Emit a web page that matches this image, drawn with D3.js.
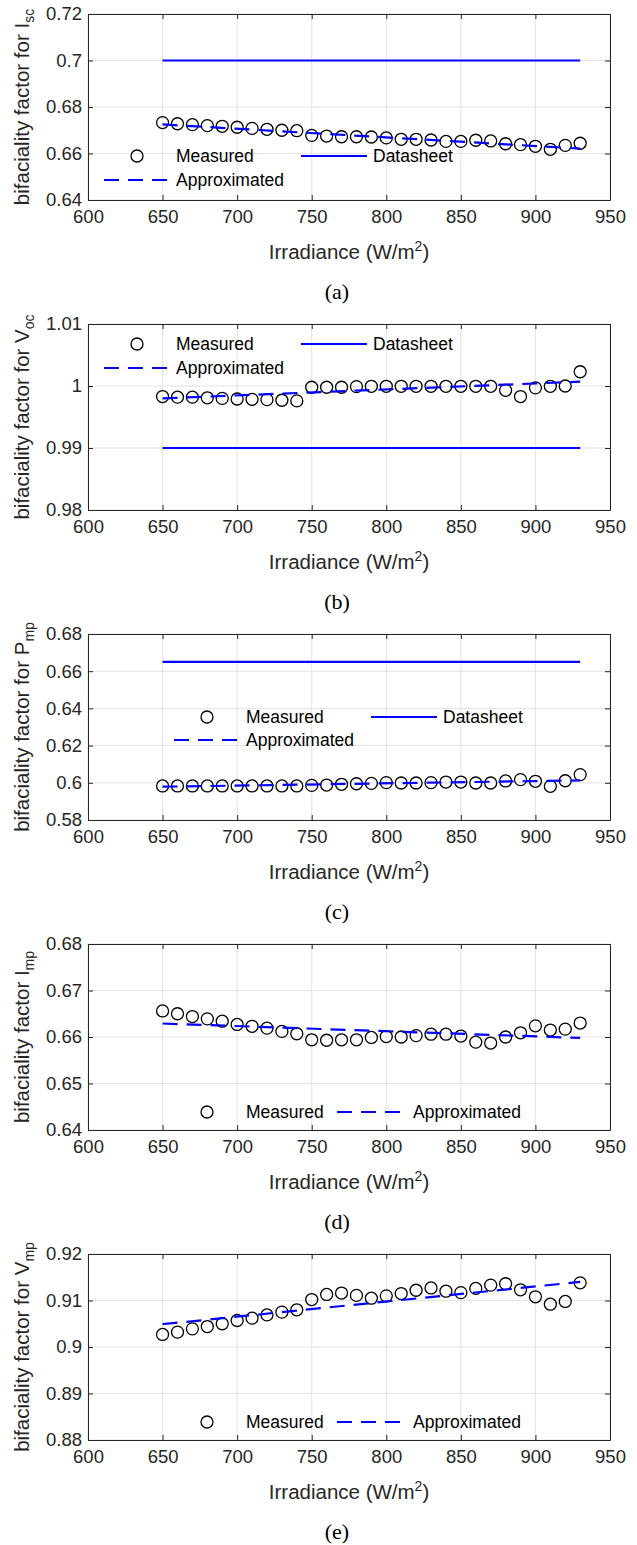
<!DOCTYPE html>
<html>
<head>
<meta charset="utf-8">
<script src="https://cdn.jsdelivr.net/npm/d3@7"></script>
<style>
  body { margin: 0; background: #fff; }
  svg { display: block; }
</style>
</head>
<body>
<div id="chart"></div>
<script>
// irradiance steps (W/m2)
var irradiance = [650, 660, 670, 680, 690, 700, 710, 720, 730, 740, 750, 760, 770, 780, 790,
                  800, 810, 820, 830, 840, 850, 860, 870, 880, 890, 900, 910, 920, 930];

var iscMeasured = [0.6733, 0.6728, 0.6724, 0.6720, 0.6717, 0.6713, 0.6708, 0.6704, 0.6700, 0.6698,
                   0.6678, 0.6675, 0.6672, 0.6672, 0.6671, 0.6667, 0.6661, 0.6661, 0.6658, 0.6652,
                   0.6652, 0.6657, 0.6654, 0.6642, 0.6638, 0.6631, 0.6618, 0.6635, 0.6644];
var vocMeasured = [0.9983, 0.9982, 0.9982, 0.9981, 0.9980, 0.9979, 0.99785, 0.9978, 0.9977, 0.9976,
                   0.9998, 0.9998, 0.9998, 0.9999, 0.99995, 0.99995, 0.99995, 0.99995, 0.99995, 0.99995,
                   0.99995, 0.99995, 0.99995, 0.9993, 0.9983, 0.9997, 0.99995, 1.0000, 1.0023];
var pmpMeasured = [0.5983, 0.5983, 0.5983, 0.5983, 0.5983, 0.5983, 0.5983, 0.5983, 0.5983, 0.5983,
                   0.5986, 0.5988, 0.5992, 0.5995, 0.5997, 0.6001, 0.5999, 0.5999, 0.6001, 0.6004,
                   0.6004, 0.5999, 0.5999, 0.6010, 0.6017, 0.6008, 0.5981, 0.6011, 0.6044];
var impMeasured = [0.6656, 0.6650, 0.6644, 0.6639, 0.6634, 0.6627, 0.6623, 0.6619, 0.6612, 0.6607,
                   0.6594, 0.6593, 0.6594, 0.6594, 0.6599, 0.6601, 0.6600, 0.6603, 0.6606, 0.6606,
                   0.6602, 0.6589, 0.6587, 0.6600, 0.6609, 0.6624, 0.6615, 0.6617, 0.6630];
var vmpMeasured = [0.9027, 0.9032, 0.9039, 0.9044, 0.9050, 0.9057, 0.9062, 0.9069, 0.9075, 0.9080,
                   0.9102, 0.9113, 0.9116, 0.9111, 0.9105, 0.9110, 0.9115, 0.9122, 0.9127, 0.9120,
                   0.9117, 0.9126, 0.9133, 0.9136, 0.9123, 0.9108, 0.9092, 0.9098, 0.9138];

// fitted lines (end points) and datasheet values
var approxX = [650, 930];
var iscApprox = [0.6725, 0.6621];
var vocApprox = [0.9980, 1.0007];
var pmpApprox = [0.5979, 0.6013];
var impApprox = [0.6629, 0.6598];
var vmpApprox = [0.9049, 0.9140];

var datasheetX = [650, 930];
var iscDatasheet = [0.70, 0.70];
var vocDatasheet = [0.99, 0.99];
var pmpDatasheet = [0.665, 0.665];

var xTicks = [600, 650, 700, 750, 800, 850, 900, 950];
var iscTicks = [0.64, 0.66, 0.68, 0.70, 0.72];
var vocTicks = [0.98, 0.99, 1.00, 1.01];
var pmpTicks = [0.58, 0.60, 0.62, 0.64, 0.66, 0.68];
var impTicks = [0.64, 0.65, 0.66, 0.67, 0.68];
var vmpTicks = [0.88, 0.89, 0.90, 0.91, 0.92];

var labelMain = ['bifaciality factor for I', 'bifaciality factor for V', 'bifaciality factor for P',
                 'bifaciality factor I', 'bifaciality factor for V'];
var labelSub = ['sc', 'oc', 'mp', 'mp', 'mp'];
var captions = ['(a)', '(b)', '(c)', '(d)', '(e)'];

var W = 637, H = 1545;
var left = 88, right = 610, plotH = 186, step = 310, top0 = 14;
var blue = '#0000ff', ink = '#262626';
var sans = '"Liberation Sans", Arial, Helvetica, sans-serif';

var svg = d3.select('#chart').append('svg')
            .attr('width', W)
            .attr('height', H);

svg.append('rect')
   .attr('width', W)
   .attr('height', H)
   .attr('fill', '#fff');

var x = d3.scaleLinear().domain([600, 950]).range([left, right]);

function drawPanel(i, measured, ticks, approx, datasheet, legend){
  var top = top0 + i * step;
  var y = d3.scaleLinear()
            .domain([ticks[0], ticks[ticks.length - 1]])
            .range([top + plotH, top]);
  var g = svg.append('g');

  // grid
  g.selectAll('.gx').data(xTicks).enter().append('line')
    .attr('x1', function(d){ return x(d); })
    .attr('x2', function(d){ return x(d); })
    .attr('y1', top).attr('y2', top + plotH)
    .attr('stroke', '#e3e3e3').attr('stroke-width', 1);
  g.selectAll('.gy').data(ticks).enter().append('line')
    .attr('x1', left).attr('x2', right)
    .attr('y1', function(d){ return y(d); })
    .attr('y2', function(d){ return y(d); })
    .attr('stroke', '#e3e3e3').attr('stroke-width', 1);

  // axes (matlab style box, ticks pointing in)
  var fmt = function(d){ return String(+d.toFixed(2)); };
  g.append('g').attr('transform', 'translate(0,' + (top + plotH) + ')')
    .call(d3.axisBottom(x).tickValues(xTicks).tickSizeInner(-5).tickSizeOuter(0).tickPadding(10));
  g.append('g').attr('transform', 'translate(0,' + top + ')')
    .call(d3.axisTop(x).tickValues(xTicks).tickSizeInner(-5).tickSizeOuter(0).tickFormat(''));
  g.append('g').attr('transform', 'translate(' + left + ',0)')
    .call(d3.axisLeft(y).tickValues(ticks).tickFormat(fmt).tickSizeInner(-5).tickSizeOuter(0).tickPadding(6));
  g.append('g').attr('transform', 'translate(' + right + ',0)')
    .call(d3.axisRight(y).tickValues(ticks).tickSizeInner(-5).tickSizeOuter(0).tickFormat(''));
  g.selectAll('.domain').attr('stroke', ink);
  g.selectAll('.tick line').attr('stroke', ink);
  g.selectAll('.tick text')
    .attr('fill', ink)
    .style('font-family', sans)
    .style('font-size', '18.5px');

  // measured
  g.selectAll('.m').data(measured).enter().append('circle')
    .attr('cx', function(d, k){ return x(irradiance[k]); })
    .attr('cy', function(d){ return y(d); })
    .attr('r', 6)
    .attr('fill', 'none')
    .attr('stroke', '#000')
    .attr('stroke-width', 1.3);

  var line = d3.line()
               .x(function(d, k){ return x(approxX[k]); })
               .y(function(d){ return y(d); });
  g.append('path')
    .datum(approx)
    .attr('d', line)
    .attr('fill', 'none')
    .attr('stroke', blue)
    .attr('stroke-width', 2.2)
    .attr('stroke-dasharray', '15,9');

  if(datasheet){
    var dsLine = d3.line()
                   .x(function(d, k){ return x(datasheetX[k]); })
                   .y(function(d){ return y(d); });
    g.append('path')
      .datum(datasheet)
      .attr('d', dsLine)
      .attr('fill', 'none')
      .attr('stroke', blue)
      .attr('stroke-width', 2.2);
  }

  // legend
  var lg = g.append('g').attr('transform', 'translate(' + legend.dx + ',' + top + ')');
  lg.append('circle')
    .attr('cx', 137).attr('cy', legend.r1)
    .attr('r', 6).attr('fill', 'none')
    .attr('stroke', '#000').attr('stroke-width', 1.3);
  lg.append('text')
    .attr('x', 176).attr('y', legend.r1).attr('dy', '0.35em')
    .text('Measured');
  if(datasheet){
    lg.append('line')
      .attr('x1', 301).attr('x2', 367)
      .attr('y1', legend.r1).attr('y2', legend.r1)
      .attr('stroke', blue).attr('stroke-width', 2.2);
    lg.append('text')
      .attr('x', 373).attr('y', legend.r1).attr('dy', '0.35em')
      .text('Datasheet');
    lg.append('line')
      .attr('x1', 104).attr('x2', 167)
      .attr('y1', legend.r2).attr('y2', legend.r2)
      .attr('stroke', blue).attr('stroke-width', 2.2)
      .attr('stroke-dasharray', '15,9');
    lg.append('text')
      .attr('x', 176).attr('y', legend.r2).attr('dy', '0.35em')
      .text('Approximated');
  } else {
    lg.append('line')
      .attr('x1', 267).attr('x2', 334)
      .attr('y1', legend.r1).attr('y2', legend.r1)
      .attr('stroke', blue).attr('stroke-width', 2.2)
      .attr('stroke-dasharray', '15,9');
    lg.append('text')
      .attr('x', 343).attr('y', legend.r1).attr('dy', '0.35em')
      .text('Approximated');
  }
  lg.selectAll('text')
    .attr('fill', '#000')
    .style('font-family', sans)
    .style('font-size', '17.5px');

  // axis labels
  var xl = g.append('text')
            .attr('x', (left + right) / 2)
            .attr('y', top + plotH + 59)
            .attr('text-anchor', 'middle')
            .attr('fill', ink)
            .style('font-family', sans)
            .style('font-size', '20.5px');
  xl.append('tspan').text('Irradiance (W/m');
  xl.append('tspan').attr('dy', -8).style('font-size', '14px').text('2');
  xl.append('tspan').attr('dy', 8).text(')');

  var yl = g.append('text')
            .attr('transform', 'translate(29,' + (top + plotH / 2) + ') rotate(-90)')
            .attr('text-anchor', 'middle')
            .attr('fill', ink)
            .style('font-family', sans)
            .style('font-size', '20.5px');
  yl.append('tspan').text(labelMain[i]);
  yl.append('tspan').attr('dy', 5).style('font-size', '14px').text(labelSub[i]);

  g.append('text')
    .attr('x', 337)
    .attr('y', top + 285)
    .attr('text-anchor', 'middle')
    .attr('fill', '#000')
    .style('font-family', '"Liberation Serif", "Times New Roman", serif')
    .style('font-size', '22px')
    .text(captions[i]);
}

drawPanel(0, iscMeasured, iscTicks, iscApprox, iscDatasheet, {dx: 0, r1: 142, r2: 166});
drawPanel(1, vocMeasured, vocTicks, vocApprox, vocDatasheet, {dx: 0, r1: 20, r2: 44});
drawPanel(2, pmpMeasured, pmpTicks, pmpApprox, pmpDatasheet, {dx: 70, r1: 83, r2: 106});
drawPanel(3, impMeasured, impTicks, impApprox, null, {dx: 70, r1: 168});
drawPanel(4, vmpMeasured, vmpTicks, vmpApprox, null, {dx: 70, r1: 168});
</script>
</body>
</html>
